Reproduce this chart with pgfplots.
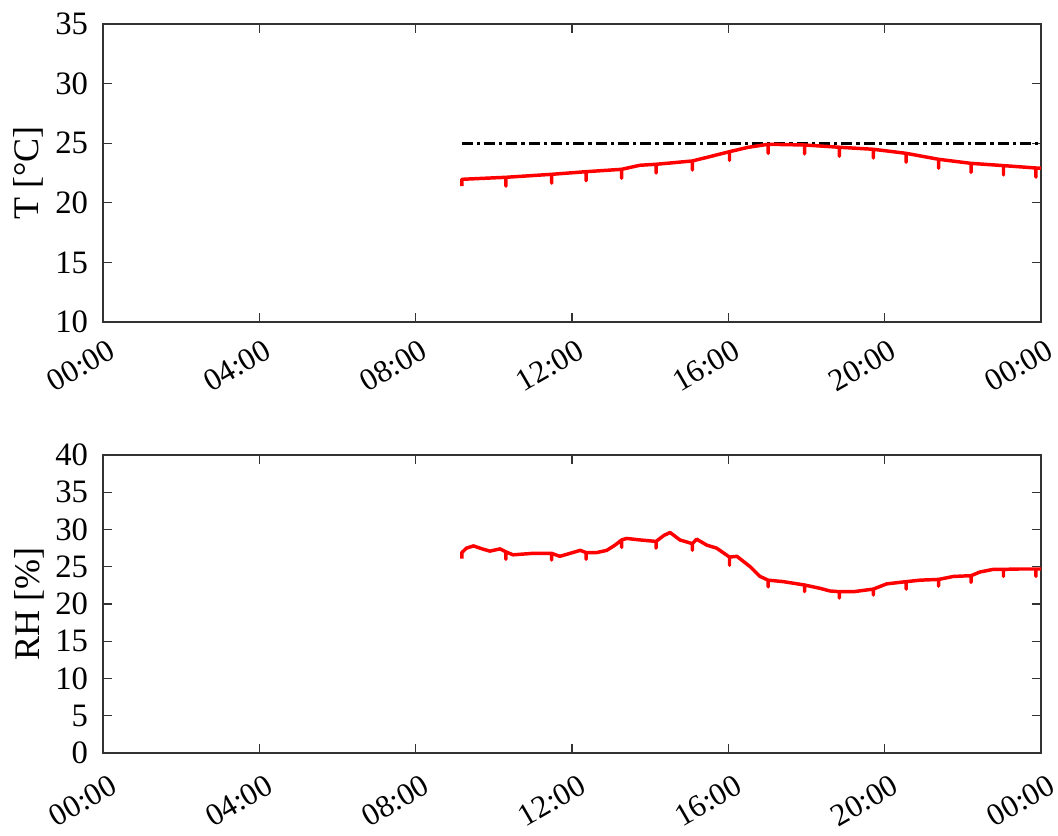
\documentclass[border=0pt]{standalone}
\usepackage{fontspec}
\setmainfont{Liberation Serif}
\usepackage{pgfplots}
\usepackage{pgfplotstable}
\pgfplotsset{compat=1.18}
\pgfplotstableread{
h T
9.18 21.4
9.18 21.97
10.31 22.14
10.31 21.4
10.31 22.14
11.48 22.39
11.48 21.65
11.48 22.39
12.36 22.61
12.36 21.85
12.36 22.61
13.27 22.81
13.27 22.05
13.27 22.81
13.74 23.15
14.15 23.23
14.15 22.5
14.15 23.23
15.08 23.51
15.08 22.75
15.08 23.51
15.5 23.85
16.03 24.29
16.03 23.55
16.03 24.29
16.5 24.65
17.02 24.91
17.02 24.15
17.02 24.91
17.95 24.85
17.95 24.1
17.95 24.85
18.84 24.66
18.84 23.9
18.84 24.66
19.71 24.49
19.71 23.75
19.71 24.49
20.55 24.15
20.55 23.4
20.55 24.15
21.38 23.65
21.38 22.9
21.38 23.65
22.21 23.31
22.21 22.55
22.21 23.31
23.04 23.12
23.04 22.35
23.04 23.12
23.87 22.92
23.87 22.15
23.87 22.92
24.0 22.9
}\Tdata
\pgfplotstableread{
h RH
9.18 26.1
9.18 26.9
9.30 27.5
9.48 27.8
9.70 27.4
9.90 27.1
10.16 27.4
10.31 27.0
10.31 26.0
10.31 27.0
10.49 26.6
11.00 26.8
11.48 26.8
11.48 25.9
11.48 26.8
11.69 26.4
12.21 27.2
12.36 26.9
12.36 26.0
12.36 26.9
12.63 26.9
12.89 27.2
13.10 27.9
13.27 28.6
13.27 27.6
13.27 28.6
13.40 28.8
13.74 28.6
14.15 28.4
14.15 27.5
14.15 28.4
14.35 29.2
14.51 29.6
14.76 28.6
15.08 28.1
15.08 27.2
15.08 28.1
15.19 28.7
15.45 27.9
15.70 27.5
16.03 26.3
16.03 25.2
16.03 26.3
16.22 26.4
16.56 25.0
16.81 23.7
17.02 23.2
17.02 22.3
17.02 23.2
17.41 23.0
17.95 22.55
17.95 21.65
17.95 22.55
18.35 22.1
18.60 21.75
18.84 21.65
18.84 20.8
18.84 21.65
19.20 21.65
19.71 22.0
19.71 21.2
19.71 22.0
20.05 22.7
20.55 23.0
20.55 22.0
20.55 23.0
20.91 23.2
21.38 23.3
21.38 22.4
21.38 23.3
21.76 23.7
22.21 23.8
22.21 22.9
22.21 23.8
22.44 24.3
22.78 24.65
23.04 24.65
23.04 23.7
23.04 24.65
23.46 24.7
23.87 24.7
23.87 23.7
23.87 24.7
24.0 24.7
}\RHdata
\begin{document}
\fontsize{24.5}{29}\selectfont
\begin{tikzpicture}
\pgfplotsset{
 myax/.style={
  scale only axis, width=703.5pt, height=223.5pt,
  xmin=0, xmax=24, xtick={0,4,8,12,16,20,24},
  xticklabels={00:00,04:00,08:00,12:00,16:00,20:00,00:00},
  tick align=inside, tick pos=both,
  major tick length=7pt,
  axis line style={black!80, line width=0.8pt},
  every tick/.style={black!80, line width=0.8pt},
  tick label style={font=\fontsize{24.5}{29}\selectfont, black},
  xticklabel style={font=\fontsize{23.5}{28}\selectfont},
  label style={font=\fontsize{27}{32}\selectfont, black},
  /pgf/number format/assume math mode=true,
  xticklabel style={rotate=30, anchor=north east, inner sep=0pt, xshift=-4pt},
  yticklabel style={inner sep=0pt, anchor=east, xshift=-11pt},
 }
}
\begin{axis}[myax, at={(0,0)}, anchor=south west,
  ymin=10, ymax=35, ytick={10,15,20,25,30,35},
  xticklabel style={yshift=-12pt},
  ylabel={T [°C]},
  ylabel style={at={(axis description cs:-0.08,0.5)}, anchor=center}]
\addplot[black, line width=2.4pt, dash pattern=on 8.25pt off 3pt on 2.5pt off 3pt] coordinates {(9.18,25) (24,25)};
\addplot[red, line width=2.6pt, line join=round] table[x=h, y=T] {\Tdata};
\end{axis}
\begin{axis}[myax, at={(0,-323.25pt)}, anchor=south west,
  ymin=0, ymax=40, ytick={0,5,10,15,20,25,30,35,40},
  xticklabel style={yshift=-15pt},
  ylabel={RH [\%]},
  ylabel style={at={(axis description cs:-0.078,0.5)}, anchor=center}]
\addplot[red, line width=2.6pt, line join=round] table[x=h, y=RH] {\RHdata};
\end{axis}
\pgfresetboundingbox
\path (-77.25pt,241.5pt) rectangle (716.25pt,-385.5pt);
\end{tikzpicture}
\end{document}
